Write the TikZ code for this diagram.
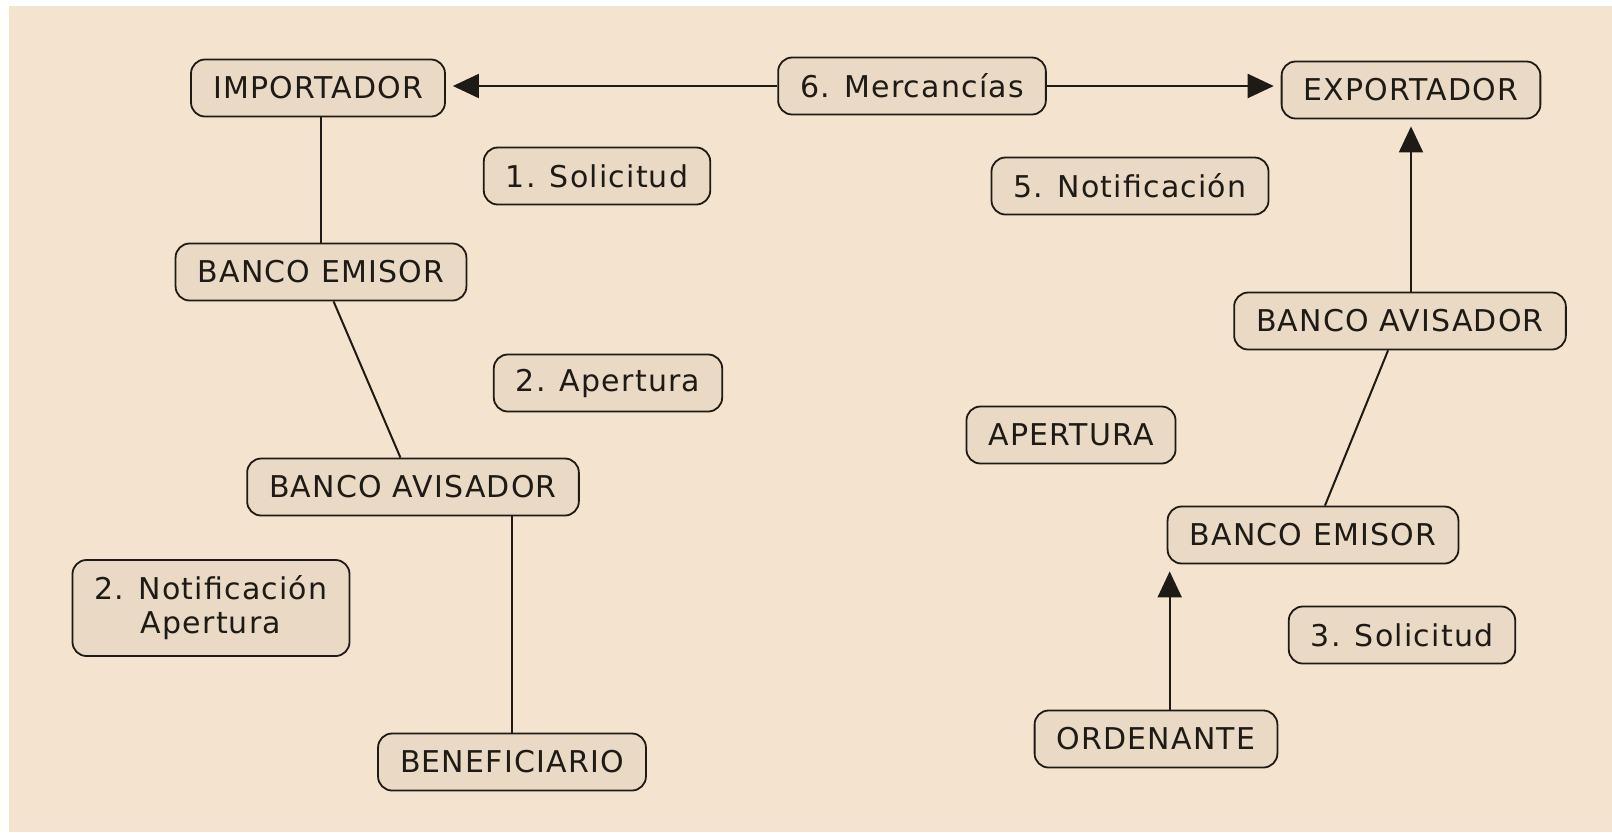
\documentclass[tikz,border=0pt]{standalone}
\usepackage{fontspec}
\setmainfont[LetterSpace=4]{DejaVu Sans}
\usetikzlibrary{arrows.meta}
\definecolor{fondo}{HTML}{F4E3CF}
\definecolor{relleno}{HTML}{E9D9C5}
\definecolor{trazo}{HTML}{1E1A16}
\begin{document}
\begin{tikzpicture}[x=0.5pt,y=-0.5pt,
    caja/.style={draw=trazo,fill=relleno,rounded corners=7pt,line width=0.9pt,
      minimum height=28.5pt,inner xsep=11pt,text=trazo,font=\fontsize{15}{17}\selectfont},
    linea/.style={draw=trazo,line width=1pt},
    flecha/.style={linea,-{Triangle[length=13pt,width=12pt]},shorten >=3.5pt}]
  \useasboundingbox (0,0) rectangle (1612,832);
  \fill[white] (0,0) rectangle (1612,832);
  \fill[fondo] (9,6) rectangle (1612,832);
  % fila de arriba
  \node[caja] (imp) at (318,88) {IMPORTADOR};
  \node[caja] (merc) at (912,86) {6. Mercancías};
  \node[caja] (exp) at (1411,90) {EXPORTADOR};
  % pasos
  \node[caja] (sol1) at (597,176) {1. Solicitud};
  \node[caja] (not5) at (1130,186) {5. Notificación};
  \node[caja] (ape2) at (608,383) {2. Apertura};
  \node[caja] (aper) at (1071,435) {APERTURA};
  \node[caja,align=center,minimum height=48pt] (notap) at (211,608) {2. Notificación\\Apertura};
  \node[caja] (sol3) at (1402,635) {3. Solicitud};
  % lado izquierdo
  \node[caja] (bemi) at (321,272) {BANCO EMISOR};
  \node[caja] (bavi) at (413,487) {BANCO AVISADOR};
  \node[caja] (benef) at (512,762) {BENEFICIARIO};
  % lado derecho
  \node[caja] (bavd) at (1400,321) {BANCO AVISADOR};
  \node[caja] (bemd) at (1313,535) {BANCO EMISOR};
  \node[caja] (orden) at (1156,739) {ORDENANTE};
  % conexiones
  \draw[flecha] (merc.west) -- (imp.east |- merc.west);
  \draw[flecha] (merc.east) -- (exp.west |- merc.east);
  \draw[linea] (imp.south -| bemi) -- (bemi.north);
  \draw[linea] (bemi) -- (bavi);
  \draw[linea] (bavi.south -| benef) -- (benef.north);
  \draw[flecha] (bavd.north -| exp) -- (exp.south);
  \draw[linea] (bemd) -- (bavd);
  \draw[flecha] ([xshift=1.5pt]orden.north -| bemd.west) -- ([xshift=1.5pt]bemd.south west);
\end{tikzpicture}
\end{document}
